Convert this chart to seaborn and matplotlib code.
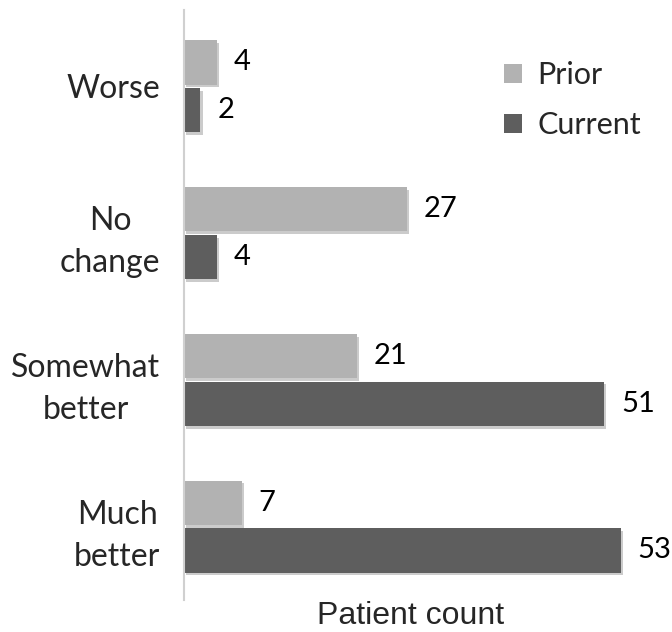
import matplotlib
matplotlib.use("Agg")
import matplotlib.pyplot as plt
import matplotlib.patheffects as pe
from matplotlib.patches import Patch
import seaborn as sns
import pandas as pd

categories = ["Worse", "No\nchange", "Somewhat\nbetter", "Much\nbetter"]
series = ["Prior", "Current"]
prior_values = [4, 27, 21, 7]
current_values = [2, 4, 51, 53]
colors = {"Prior": "#b2b2b2", "Current": "#5e5e5e"}

df = pd.DataFrame({
    "category": categories * 2,
    "series": ["Prior"] * len(categories) + ["Current"] * len(categories),
    "count": prior_values + current_values,
})

sns.set_style("white")
plt.rcParams["font.family"] = ["Lato", "DejaVu Sans"]

fig = plt.figure(figsize=(6.72, 6.32), dpi=100)
ax = fig.add_axes([184 / 672, 32 / 632, 1 - 184 / 672 - 0.005, 590 / 632])

sns.barplot(data=df, y="category", x="count", hue="series", order=categories,
            hue_order=series, palette=colors, orient="h", width=0.65, gap=0.07,
            legend=False, ax=ax, edgecolor="none", linewidth=0)

for p in ax.patches:
    p.set_path_effects([pe.SimplePatchShadow(offset=(1.5, -2), shadow_rgbFace="#999999", alpha=0.5), pe.Normal()])

for cont in ax.containers:
    ax.bar_label(cont, padding=12, fontsize=21, color="black")

ax.set_xlim(0, 58.8)
ax.set_ylim(3.5, -0.52)
ax.set_xticks([])
ax.set_ylabel("")
ax.set_xlabel("Patient count", fontsize=23, family=["Liberation Sans", "DejaVu Sans"])
ax.xaxis.label.set_va("baseline")
ax.xaxis.set_label_coords(0.468, -0.041)
ax.tick_params(axis="y", length=0, pad=17, labelsize=23)
for lab in ax.get_yticklabels():
    lab.set_multialignment("center")
    lab.set_linespacing(1.5)

for s in ["top", "right", "bottom"]:
    ax.spines[s].set_visible(False)
ax.spines["left"].set_color("#d0d0d0")
ax.spines["left"].set_linewidth(1.5)

handles = [Patch(facecolor=colors[s], edgecolor="none", label=s) for s in series]
ax.legend(handles=handles, loc="upper right", bbox_to_anchor=(1.0, 0.96), frameon=False,
          fontsize=22, handlelength=0.6, handleheight=0.6, handletextpad=0.5,
          labelspacing=0.72)

fig.savefig("out.png", dpi=100)
